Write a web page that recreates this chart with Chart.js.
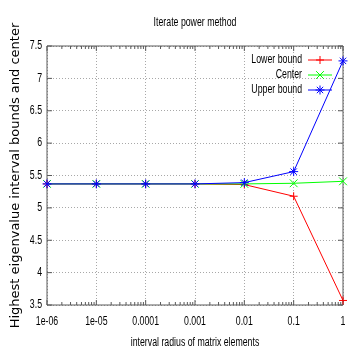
<!DOCTYPE html>
<html>
<head>
<meta charset="utf-8">
<script src="https://cdn.jsdelivr.net/npm/chart.js@4.4.1/dist/chart.umd.min.js"></script>
<style>
  body { margin: 0; background: #fff; }
</style>
</head>
<body>
<canvas id="chart" width="354" height="354"></canvas>
<script>
// interval radius (x, log scale) and the three eigenvalue estimates
const radius = [1e-6, 1e-5, 1e-4, 1e-3, 1e-2, 1e-1, 1];
const radiusLabels = ['1e-06', '1e-05', '0.0001', '0.001', '0.01', '0.1', '1'];
const lowerBound = [5.37, 5.37, 5.37, 5.37, 5.36, 5.18, 3.57];
const center = [5.37, 5.37, 5.37, 5.37, 5.37, 5.38, 5.41];
const upperBound = [5.37, 5.37, 5.37, 5.37, 5.39, 5.56, 7.27];
const yTicks = [3.5, 4, 4.5, 5, 5.5, 6, 6.5, 7, 7.5];

const titleText = 'Iterate power method';
const xTitle = 'interval radius of matrix elements';
const yTitle = 'Highest eigenvalue interval bounds and center';

const frameColor = '#5a5a5a';
const gridColor = '#a8a8a8';

// gnuplot's png font is a narrow sans; squeeze Liberation Sans to get it
function narrowText(ctx, text, x, y, align) {
    ctx.save();
    ctx.font = '12px "Liberation Sans", Arial, sans-serif';
    ctx.fillStyle = '#000';
    ctx.textAlign = align;
    ctx.textBaseline = 'middle';
    ctx.translate(x, y);
    ctx.scale(0.73, 1);
    ctx.fillText(text, 0, 0);
    ctx.restore();
}

function points(ys) {
    return radius.map((r, i) => ({x: r, y: ys[i]}));
}

function series(label, ys, color, style, size, order) {
    return {
        label: label,
        data: points(ys),
        borderColor: color,
        backgroundColor: color,
        borderWidth: 1,
        pointStyle: style,
        pointRadius: size,
        pointBorderWidth: 1,
        pointHoverRadius: size,
        tension: 0,
        clip: false,
        order: order
    };
}

// frame with inward ticks on all sides, tick labels, titles and key
const gnuplotLook = {
    id: 'gnuplotLook',
    beforeDatasetsDraw(chart) {
        const ctx = chart.ctx, a = chart.chartArea;
        const xs = chart.scales.x, ys = chart.scales.y;
        ctx.save();
        ctx.strokeStyle = frameColor;
        ctx.lineWidth = 1;
        ctx.beginPath();
        xs.ticks.forEach(t => {
            const px = xs.getPixelForValue(t.value);
            const len = t.major ? 5 : 3;
            ctx.moveTo(px, a.bottom); ctx.lineTo(px, a.bottom - len);
            ctx.moveTo(px, a.top); ctx.lineTo(px, a.top + len);
        });
        ys.ticks.forEach(t => {
            const py = ys.getPixelForValue(t.value);
            ctx.moveTo(a.left, py); ctx.lineTo(a.left + 5, py);
            ctx.moveTo(a.right, py); ctx.lineTo(a.right - 5, py);
        });
        ctx.rect(a.left, a.top, a.right - a.left, a.bottom - a.top);
        ctx.stroke();
        ctx.restore();

        radius.forEach((r, i) => {
            narrowText(ctx, radiusLabels[i], xs.getPixelForValue(r), a.bottom + 17, 'center');
        });
        yTicks.forEach(v => {
            narrowText(ctx, String(v), a.left - 5, ys.getPixelForValue(v), 'right');
        });
        narrowText(ctx, titleText, (a.left + a.right) / 2, 23, 'center');
        narrowText(ctx, xTitle, (a.left + a.right) / 2, a.bottom + 38, 'center');
    },
    afterDraw(chart) {
        const ctx = chart.ctx, a = chart.chartArea;
        chart.data.datasets.forEach((ds, i) => {
            const y = a.top + 14 + i * 15;
            narrowText(ctx, ds.label, a.right - 41, y, 'right');
            ctx.save();
            ctx.strokeStyle = ds.borderColor;
            ctx.lineWidth = 1;
            ctx.beginPath();
            ctx.moveTo(a.right - 35, y);
            ctx.lineTo(a.right - 11, y);
            ctx.stroke();
            Chart.helpers.drawPoint(ctx, {
                pointStyle: ds.pointStyle, radius: ds.pointRadius, borderWidth: 1
            }, a.right - 23, y);
            ctx.restore();
        });
    }
};

new Chart(document.getElementById('chart'), {
    type: 'line',
    data: {
        datasets: [
            series('Lower bound', lowerBound, '#ff0000', 'cross', 4, 2),
            series('Center', center, '#00ff00', 'crossRot', 5.5, 1),
            series('Upper bound', upperBound, '#0000ff', 'star', 4.5, 0)
        ]
    },
    options: {
        responsive: false,
        animation: false,
        events: [],
        layout: {padding: {left: 0, right: 11, top: 46, bottom: 0}},
        plugins: {
            legend: {display: false},
            tooltip: {enabled: false},
            title: {display: false}
        },
        scales: {
            x: {
                type: 'logarithmic',
                min: radius[0],
                max: radius[radius.length - 1],
                afterBuildTicks(scale) {
                    const ticks = [];
                    radius.forEach((r, i) => {
                        ticks.push({value: r, major: true});
                        if (i < radius.length - 1) {
                            for (let k = 2; k <= 9; k++) ticks.push({value: r * k, major: false});
                        }
                    });
                    scale.ticks = ticks;
                },
                afterFit(scale) { scale.height = 49; },
                ticks: {display: false},
                grid: {
                    drawTicks: false,
                    lineWidth: 1,
                    color: (ctx) => (ctx.tick && ctx.tick.major) ? gridColor : 'rgba(0,0,0,0)'
                },
                border: {display: false, dash: [1, 2]}
            },
            y: {
                type: 'linear',
                min: yTicks[0],
                max: yTicks[yTicks.length - 1],
                afterBuildTicks(scale) {
                    scale.ticks = yTicks.map(v => ({value: v}));
                },
                afterFit(scale) { scale.width = 47; },
                ticks: {display: false},
                grid: {drawTicks: false, lineWidth: 1, color: gridColor},
                border: {display: false, dash: [1, 2]},
                title: {
                    display: true,
                    text: yTitle,
                    font: {family: "'DejaVu Sans', sans-serif", size: 13},
                    color: '#000',
                    padding: {top: 8, bottom: 0}
                }
            }
        }
    },
    plugins: [gnuplotLook]
});
</script>
</body>
</html>
